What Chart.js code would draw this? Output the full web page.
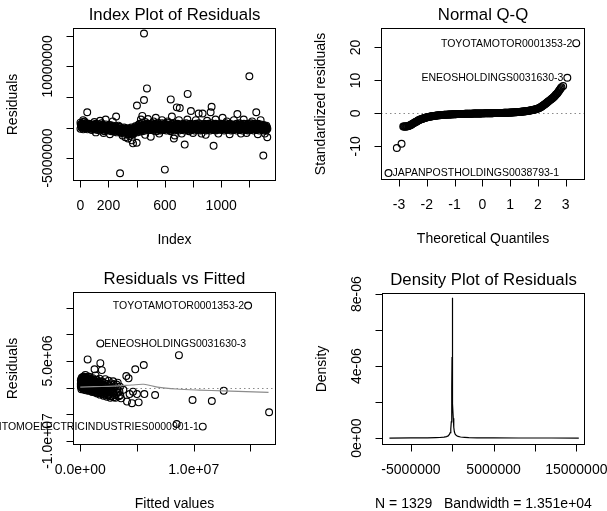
<!DOCTYPE html>
<html>
<head>
<meta charset="utf-8">
<script src="https://cdn.jsdelivr.net/npm/chart.js@4"></script>
<style>
  html, body { margin: 0; padding: 0; background: #fff; }
  #wrap { position: relative; width: 607px; height: 511px; }
  #wrap canvas { position: absolute; left: 0; top: 0; }
</style>
</head>
<body>
<div id="wrap">
  <canvas id="c1" width="607" height="511"></canvas>
  <canvas id="c2" width="607" height="511"></canvas>
  <canvas id="c3" width="607" height="511"></canvas>
  <canvas id="c4" width="607" height="511"></canvas>
</div>
<script>
// residuals are kept in millions (1e6), density in 1e-6

// --- Index plot: dense band (several rows) + scattered points
const idxBand = [1,11,21,31,41,51,61,71,81,91,101,111,121,131,141,151,161,171,181,191,
  201,211,221,231,241,251,261,271,281,291,301,311,321,331,341,351,361,371,381,391,
  401,411,421,431,441,451,461,471,481,491,501,511,521,531,541,551,561,571,581,591,
  601,611,621,631,641,651,661,671,681,691,701,711,721,731,741,751,761,771,781,791,
  801,811,821,831,841,851,861,871,881,891,901,911,921,931,941,951,961,971,981,991,
  1001,1011,1021,1031,1041,1051,1061,1071,1081,1091,1101,1111,1121,1131,1141,1151,1161,1171,1181,1191,
  1201,1211,1221,1231,1241,1251,1261,1271,1281,1291,1301,1311,1321];
const idxBandMid = [6,16,26,36,46,56,66,76,86,96,106,116,126,136,146,156,166,176,186,196,
  206,216,226,236,246,256,266,276,286,296,306,316,326,336,346,356,366,376,386,396,
  406,416,426,436,446,456,466,476,486,496,506,516,526,536,546,556,566,576,586,596,
  606,616,626,636,646,656,666,676,686,696,706,716,726,736,746,756,766,776,786,796,
  806,816,826,836,846,856,866,876,886,896,906,916,926,936,946,956,966,976,986,996,
  1006,1016,1026,1036,1046,1056,1066,1076,1086,1096,1106,1116,1126,1136,1146,1156,1166,1176,1186,1196,
  1206,1216,1226,1236,1246,1256,1266,1276,1286,1296,1306,1316,1326];
const idxBandQ = [3,13,23,33,43,53,63,73,83,93,103,113,123,133,143,153,163,173,183,193,
  203,213,223,233,243,253,263,273,283,293,303,313,323,333,343,353,363,373,383,393,
  403,413,423,433,443,453,463,473,483,493,503,513,523,533,543,553,563,573,583,593,
  603,613,623,633,643,653,663,673,683,693,703,713,723,733,743,753,763,773,783,793,
  803,813,823,833,843,853,863,873,883,893,903,913,923,933,943,953,963,973,983,993,
  1003,1013,1023,1033,1043,1053,1063,1073,1083,1093,1103,1113,1123,1133,1143,1153,1163,1173,1183,1193,
  1203,1213,1223,1233,1243,1253,1263,1273,1283,1293,1303,1313,1323];
const idxBandR = [8,18,28,38,48,58,68,78,88,98,108,118,128,138,148,158,168,178,188,198,
  208,218,228,238,248,258,268,278,288,298,308,318,328,338,348,358,368,378,388,398,
  408,418,428,438,448,458,468,478,488,498,508,518,528,538,548,558,568,578,588,598,
  608,618,628,638,648,658,668,678,688,698,708,718,728,738,748,758,768,778,788,798,
  808,818,828,838,848,858,868,878,888,898,908,918,928,938,948,958,968,978,988,998,
  1008,1018,1028,1038,1048,1058,1068,1078,1088,1098,1108,1118,1128,1138,1148,1158,1168,1178,1188,1198,
  1208,1218,1228,1238,1248,1258,1268,1278,1288,1298,1308,1318,1328];
const resBandA = [0.8,0.6,0.9,0.5,0.7,0.4,0.6,0.5,0.3,0.5,
  0.4,0.6,0.2,0.5,0.3,0.7,0.4,0.2,0.5,0.3,
  0.2,0.4,0.1,0.3,0.0,0.2,-0.1,0.3,0.1,-0.2,
  -0.2,0.0,-0.3,-0.1,-0.4,-0.2,0.0,-0.3,-0.1,0.2,
  0.1,0.4,0.6,0.3,0.8,0.5,0.9,0.4,0.6,0.3,
  0.5,0.7,0.4,0.6,0.3,0.8,0.5,0.4,0.7,0.5,
  0.6,0.4,0.8,0.5,0.3,0.6,0.7,0.4,0.5,0.6,
  0.4,0.5,0.3,0.6,0.4,0.7,0.5,0.3,0.6,0.4,
  0.5,0.3,0.6,0.4,0.7,0.5,0.3,0.5,0.6,0.4,
  0.5,0.6,0.3,0.7,0.4,0.5,0.6,0.3,0.5,0.4,
  0.6,0.4,0.5,0.7,0.3,0.5,0.6,0.4,0.5,0.3,
  0.5,0.6,0.4,0.7,0.5,0.3,0.6,0.5,0.4,0.6,
  0.5,0.7,0.4,0.6,0.3,0.5,0.6,0.4,0.5,0.3,
  0.4,0.2,0.3];
const resBandQ = [0.5,0.4,0.6,0.3,0.5,0.4,0.3,0.5,0.2,0.4,
  0.3,0.2,0.1,0.3,0.2,0.4,0.1,0.0,0.3,0.1,
  0.1,0.2,0.0,0.1,-0.1,0.0,-0.2,0.1,-0.1,-0.3,
  -0.3,-0.4,-0.2,-0.3,-0.5,-0.3,-0.4,-0.5,-0.3,-0.1,
  -0.1,0.2,0.3,0.2,0.4,0.3,0.5,0.3,0.4,0.2,
  0.3,0.4,0.2,0.3,0.1,0.4,0.3,0.2,0.4,0.3,
  0.3,0.2,0.4,0.3,0.1,0.3,0.4,0.2,0.3,0.4,
  0.2,0.3,0.1,0.4,0.2,0.3,0.2,0.1,0.3,0.2,
  0.3,0.1,0.4,0.2,0.3,0.2,0.1,0.3,0.4,0.2,
  0.2,0.3,0.1,0.4,0.2,0.3,0.4,0.1,0.3,0.2,
  0.3,0.2,0.2,0.4,0.1,0.3,0.3,0.2,0.2,0.1,
  0.3,0.3,0.2,0.4,0.2,0.1,0.3,0.2,0.2,0.3,
  0.3,0.4,0.2,0.3,0.1,0.2,0.3,0.2,0.3,0.1,
  0.2,0.1,0.1];
const resBandMid = [0.3,0.2,0.4,0.1,0.3,0.2,0.1,0.2,0.0,0.2,
  0.1,0.2,-0.1,0.1,-0.1,0.2,0.0,-0.2,0.1,-0.1,
  -0.1,0.0,-0.2,-0.1,-0.3,-0.2,-0.4,-0.2,-0.3,-0.5,
  -0.5,-0.6,-0.4,-0.5,-0.7,-0.5,-0.6,-0.8,-0.5,-0.3,
  -0.3,0.0,-0.1,0.0,0.2,0.1,0.2,0.1,0.1,0.0,
  0.1,0.2,0.0,0.1,-0.1,0.2,0.0,0.0,0.2,0.1,
  0.1,0.0,0.2,0.1,-0.1,0.1,0.2,0.0,0.1,0.1,
  0.0,0.1,-0.1,0.2,0.0,0.1,0.0,-0.1,0.1,0.0,
  0.1,-0.1,0.2,0.0,0.1,0.0,-0.1,0.1,0.1,0.0,
  0.0,0.1,-0.1,0.2,0.0,0.1,0.1,-0.1,0.0,0.0,
  0.1,0.0,0.0,0.2,-0.1,0.1,0.1,0.0,0.0,-0.1,
  0.1,0.1,0.0,0.2,0.0,-0.1,0.1,0.0,0.0,0.1,
  0.1,0.2,0.0,0.1,-0.1,0.0,0.1,0.0,0.1,-0.1,
  0.0,-0.1,-0.1];
const resBandR = [0.0,0.1,-0.1,0.2,0.0,-0.1,0.1,-0.1,-0.2,0.0,
  -0.1,0.0,-0.2,-0.1,-0.3,-0.1,-0.2,-0.4,-0.1,-0.2,
  -0.3,-0.2,-0.4,-0.3,-0.5,-0.4,-0.6,-0.4,-0.5,-0.7,
  -0.7,-0.8,-0.6,-0.7,-0.9,-0.7,-0.8,-1.0,-0.7,-0.5,
  -0.5,-0.3,-0.4,-0.2,-0.3,-0.1,-0.2,-0.1,-0.2,-0.1,
  -0.2,-0.1,-0.3,-0.1,-0.3,0.0,-0.2,-0.3,-0.1,-0.2,
  -0.1,-0.3,0.0,-0.2,-0.3,-0.1,0.0,-0.3,-0.2,-0.1,
  -0.3,-0.1,-0.2,0.0,-0.3,-0.1,-0.2,-0.3,-0.1,-0.2,
  -0.1,-0.3,0.0,-0.2,-0.1,-0.3,-0.2,0.0,-0.1,-0.3,
  -0.2,-0.1,-0.3,0.0,-0.2,-0.1,-0.3,-0.2,0.0,-0.1,
  -0.2,0.0,-0.3,-0.1,-0.2,-0.1,0.0,-0.3,-0.2,-0.1,
  -0.1,-0.3,0.0,-0.2,-0.1,-0.3,0.0,-0.1,-0.2,-0.3,
  -0.1,-0.2,0.0,-0.3,-0.1,-0.2,0.0,-0.3,-0.1,-0.2,
  -0.3,-0.2,-0.2];
const resBandB = [-0.2,0.0,-0.3,0.1,-0.1,-0.3,0.0,-0.2,-0.4,-0.1,
  -0.3,-0.1,-0.4,-0.2,-0.5,-0.2,-0.3,-0.6,-0.3,-0.4,
  -0.5,-0.3,-0.6,-0.4,-0.7,-0.5,-0.8,-0.6,-0.7,-0.9,
  -0.8,-1.0,-0.7,-0.9,-1.1,-0.8,-1.0,-1.2,-0.9,-0.7,
  -0.8,-0.5,-0.7,-0.4,-0.6,-0.3,-0.5,-0.2,-0.4,-0.3,
  -0.4,-0.2,-0.5,-0.3,-0.6,-0.2,-0.4,-0.5,-0.3,-0.4,
  -0.3,-0.5,-0.2,-0.4,-0.6,-0.3,-0.2,-0.5,-0.4,-0.3,
  -0.5,-0.3,-0.4,-0.2,-0.5,-0.3,-0.4,-0.6,-0.3,-0.4,
  -0.3,-0.5,-0.2,-0.4,-0.3,-0.5,-0.4,-0.2,-0.3,-0.5,
  -0.4,-0.3,-0.5,-0.2,-0.4,-0.3,-0.5,-0.4,-0.2,-0.3,
  -0.4,-0.2,-0.5,-0.3,-0.4,-0.3,-0.2,-0.5,-0.4,-0.3,
  -0.3,-0.5,-0.2,-0.4,-0.3,-0.5,-0.2,-0.3,-0.4,-0.5,
  -0.3,-0.4,-0.2,-0.5,-0.3,-0.4,-0.2,-0.5,-0.3,-0.4,
  -0.5,-0.3,-0.4];
const idxOut = [452,473,452,402,49,254,282,600,367,374,400,642,685,706,762,785,840,868,925,932,
  1010,1115,1200,1249,741,946,1299,1327,890,339,500,664,536,
  20,30,100,140,180,230,300,320,350,430,440,460,480,520,560,580,620,650,670,700,720,
  760,800,820,860,900,960,980,1040,1060,1090,1140,1160,1180,1220,1260,1280,1310,165,210,110];
const resOut = [15.4,6.4,4.5,3.6,2.5,1.8,-7.5,-6.9,-2.1,-2.6,-2.5,4.6,3.3,3.2,5.5,2.7,2.3,2.3,2.5,3.4,
  1.6,2.2,8.4,2.5,-2.8,-3.0,-4.6,-1.6,-1.2,-1.8,-1.5,-1.8,1.6,
  1.2,1.0,0.9,1.1,1.3,1.0,-1.3,-1.6,-1.4,1.3,1.9,-1.2,1.4,1.0,-1.0,1.2,1.0,1.8,-1.3,1.2,-1.0,
  1.3,-0.9,1.2,-1.0,1.1,1.3,-1.0,1.0,-1.1,1.2,-1.0,1.3,-0.9,1.0,-1.1,1.2,-1.0,-0.9,-1.1,-0.8];
const idxXTicks = [0, 200, 400, 600, 800, 1000, 1200];
const idxXLabels = ['0', '200', '', '600', '', '1000', ''];
const idxYTicks = [-5, 0, 5, 10, 15];
const idxYLabels = ['-5000000', '', '', '10000000', ''];

// --- Normal Q-Q
const qqTheo = [-3.38,-3.08,-2.91,
  -2.85,-2.80,-2.75,-2.70,-2.65,-2.60,-2.55,-2.50,-2.45,-2.40,
  -2.35,-2.30,-2.25,-2.20,-2.15,-2.10,-2.05,-2.00,-1.95,-1.90,
  -1.85,-1.80,-1.75,-1.70,-1.65,-1.60,-1.55,-1.50,-1.45,-1.40,
  -1.35,-1.30,-1.25,-1.20,-1.15,-1.10,-1.05,-1.00,-0.95,-0.90,
  -0.85,-0.80,-0.75,-0.70,-0.65,-0.60,-0.55,-0.50,-0.45,-0.40,
  -0.35,-0.30,-0.25,-0.20,-0.15,-0.10,-0.05,0.00,0.05,0.10,
  0.15,0.20,0.25,0.30,0.35,0.40,0.45,0.50,0.55,0.60,
  0.65,0.70,0.75,0.80,0.85,0.90,0.95,1.00,1.05,1.10,
  1.15,1.20,1.25,1.30,1.35,1.40,1.45,1.50,1.55,1.60,
  1.65,1.70,1.75,1.80,1.85,1.90,1.95,2.00,2.05,2.10,
  2.15,2.20,2.25,2.30,2.35,2.40,2.45,2.50,2.55,2.60,
  2.65,2.70,2.75,2.80,2.85,
  2.91,3.06,3.38];
const qqStd = [-18.1,-10.5,-9.2,
  -4.0,-4.0,-4.0,-3.9,-3.8,-3.6,-3.35,-3.1,-2.85,-2.6,
  -2.35,-2.1,-1.9,-1.75,-1.6,-1.45,-1.3,-1.2,-1.1,-1.0,
  -0.92,-0.85,-0.78,-0.72,-0.66,-0.6,-0.56,-0.52,-0.48,-0.45,
  -0.42,-0.4,-0.37,-0.35,-0.32,-0.3,-0.28,-0.25,-0.24,-0.22,
  -0.2,-0.19,-0.17,-0.16,-0.14,-0.13,-0.12,-0.11,-0.1,-0.08,
  -0.07,-0.06,-0.05,-0.04,-0.03,-0.02,-0.01,0.0,0.01,0.02,
  0.03,0.04,0.05,0.06,0.07,0.08,0.09,0.1,0.11,0.12,
  0.13,0.15,0.16,0.18,0.19,0.2,0.22,0.25,0.27,0.3,
  0.32,0.35,0.38,0.4,0.44,0.5,0.55,0.6,0.65,0.7,
  0.75,0.85,0.92,1.0,1.1,1.2,1.3,1.45,1.65,1.9,
  2.15,2.45,2.8,3.1,3.45,3.8,4.1,4.45,4.8,5.2,
  5.7,6.1,6.7,7.3,7.9,
  8.3,10.8,21.3];
// points lying between the ones above
const qqTheoMid = [-2.825,-2.775,-2.725,-2.675,-2.625,-2.575,-2.525,-2.475,-2.425,-2.375,
  -2.325,-2.275,-2.225,-2.175,-2.125,-2.075,-2.025,-1.975,-1.925,-1.875,
  -1.825,-1.775,-1.725,-1.675,-1.625,-1.575,-1.525,-1.475,-1.425,-1.375,
  -1.325,-1.275,-1.225,-1.175,-1.125,-1.075,-1.025,-0.975,-0.925,-0.875,
  -0.825,-0.775,-0.725,-0.675,-0.625,-0.575,-0.525,-0.475,-0.425,-0.375,
  -0.325,-0.275,-0.225,-0.175,-0.125,-0.075,-0.025,0.025,0.075,0.125,
  0.175,0.225,0.275,0.325,0.375,0.425,0.475,0.525,0.575,0.625,
  0.675,0.725,0.775,0.825,0.875,0.925,0.975,1.025,1.075,1.125,
  1.175,1.225,1.275,1.325,1.375,1.425,1.475,1.525,1.575,1.625,
  1.675,1.725,1.775,1.825,1.875,1.925,1.975,2.025,2.075,2.125,
  2.175,2.225,2.275,2.325,2.375,2.425,2.475,2.525,2.575,2.625,
  2.675,2.725,2.775,2.825];
const qqStdMid = [-4.0,-4.0,-3.95,-3.85,-3.7,-3.5,-3.2,-3.0,-2.7,-2.5,
  -2.2,-2.0,-1.8,-1.7,-1.5,-1.4,-1.25,-1.15,-1.05,-0.96,
  -0.88,-0.82,-0.75,-0.69,-0.63,-0.58,-0.54,-0.5,-0.46,-0.44,
  -0.41,-0.38,-0.36,-0.33,-0.31,-0.29,-0.26,-0.25,-0.23,-0.21,
  -0.2,-0.18,-0.16,-0.15,-0.13,-0.12,-0.11,-0.1,-0.09,-0.08,
  -0.06,-0.05,-0.04,-0.03,-0.02,-0.01,0.0,0.0,0.01,0.02,
  0.03,0.04,0.05,0.06,0.07,0.08,0.09,0.1,0.11,0.12,
  0.14,0.15,0.17,0.18,0.2,0.21,0.23,0.26,0.28,0.31,
  0.33,0.36,0.39,0.42,0.47,0.52,0.57,0.62,0.67,0.72,
  0.8,0.88,0.96,1.05,1.15,1.25,1.38,1.55,1.77,2.0,
  2.3,2.6,2.95,3.3,3.6,3.95,4.3,4.6,5.0,5.45,
  5.9,6.4,7.0,7.6];
const qqLabelNames = ['TOYOTAMOTOR0001353-2', 'ENEOSHOLDINGS0031630-3', 'JAPANPOSTHOLDINGS0038793-1'];
const qqLabelAt = [120, 119, 0];
const qqLabelSide = ['left', 'left', 'right'];
const qqXTicks = [-3, -2, -1, 0, 1, 2, 3];
const qqXLabels = ['-3', '-2', '-1', '0', '1', '2', '3'];
const qqYTicks = [-10, 0, 10, 20];
const qqYLabels = ['-10', '0', '10', '20'];

// --- Residuals vs Fitted
const rvfFit = [0.05,0.05,0.05,0.1,0.1,0.1,0.15,0.15,0.2,0.2,0.25,0.25,0.3,0.3,0.3,0.35,0.35,0.4,0.4,0.45,
  0.45,0.5,0.5,0.5,0.55,0.6,0.6,0.65,0.7,0.7,0.75,0.8,0.8,0.85,0.9,0.9,0.95,1.0,1.0,1.05,
  1.1,1.1,1.15,1.2,1.25,1.3,1.3,1.35,1.4,1.45,1.5,1.5,1.55,1.6,1.65,1.7,1.75,1.8,1.85,1.9,
  1.95,2.0,2.05,2.1,2.15,2.2,2.25,2.3,2.35,2.4,2.45,2.5,2.55,2.6,2.7,2.75,2.8,2.9,3.0,3.05,
  3.1,3.2,3.3,3.4,3.5,3.6,3.8,
  0.65,1.77,1.26,1.9,4.85,5.6,4.06,4.26,3.3,6.6,5.65,5.0,4.65,4.35,4.12,4.56,5.15,3.53,2.94,
  8.7,8.5,9.9,11.6,12.65,16.65];
const rvfRes = [0.2,0.8,1.4,-0.3,0.5,1.1,1.9,0.0,0.6,1.5,-0.2,0.9,0.3,1.2,2.1,-0.4,0.6,1.0,1.7,0.1,
  2.4,-0.5,0.7,1.3,0.3,1.9,-0.2,0.9,0.4,1.5,-0.6,0.2,1.1,2.0,-0.3,0.7,1.4,0.0,0.9,-0.8,
  0.5,1.8,-0.4,1.2,0.2,-0.9,0.8,2.3,-0.2,1.5,0.4,-1.1,1.0,-0.5,0.3,1.7,-1.3,0.6,-0.2,1.2,
  -0.8,0.4,-1.5,0.9,-0.3,1.6,-1.0,0.2,-1.7,0.7,-0.6,1.3,-1.2,0.0,-1.6,0.8,-0.7,1.2,-1.4,0.3,
  -1.9,0.6,-0.9,-1.6,0.2,-2.0,-0.4,
  5.3,4.6,3.45,3.3,3.45,4.26,2.2,1.76,0.94,-1.37,-1.2,-1.2,-0.75,-1.2,-2.6,-2.9,-2.75,-1.4,-1.8,
  6.1,-6.8,-2.3,-2.5,-0.56,-4.6];
// dense core of the cloud near small fitted values
const rvfCoreFit = [0.1,0.1,0.15,0.2,0.2,0.25,0.3,0.3,0.35,0.4,0.4,0.45,0.5,0.5,0.55,0.6,0.6,0.65,0.7,0.7,
  0.75,0.8,0.85,0.9,0.9,0.95,1.0,1.0,1.05,1.1,1.15,1.2,1.2,1.25,1.3,1.35,1.4,1.45,1.5,1.55,
  1.6,1.65,1.7,1.75,1.8,1.85,1.9,1.95,2.0,2.05,2.1,2.15,2.2,2.3,2.4,2.45,2.55,2.6,2.65,2.8,
  2.85,2.95,3.15,3.25,3.45,
  0.05,0.1,0.15,0.2,0.25,0.3,0.35,0.35,0.4,0.45,0.5,0.55,0.6,0.65,0.7,0.75,0.8,0.85,0.9,0.95,
  1.0,1.05,1.1,1.15,1.2,1.25,1.3,1.35,1.4,1.45,1.5,1.55,1.6,1.65,1.7,1.75,1.8,1.85,1.9,1.95,
  2.0,2.1,2.2,2.25,2.35,2.5,2.7,2.9];
const rvfCoreRes = [0.3,0.9,1.6,0.1,1.2,0.5,1.8,-0.1,1.0,0.4,2.0,1.3,0.0,0.9,1.6,0.5,1.1,-0.3,0.8,2.1,
  0.3,1.4,-0.1,1.0,0.4,-0.6,1.6,0.5,0.1,1.1,-0.6,0.6,-0.1,1.4,0.3,-0.5,0.9,-0.9,0.2,-0.3,
  0.8,-1.0,0.1,-0.5,1.1,-1.1,0.3,-0.4,-1.2,0.6,-0.7,-1.3,0.2,-0.9,-0.2,-1.4,0.4,-0.9,-1.9,-0.3,
  -1.1,0.6,-1.2,-0.2,-0.7,
  0.5,1.7,0.4,0.9,1.4,0.7,0.2,1.5,-0.2,0.7,1.8,-0.1,0.8,1.4,0.0,1.0,0.6,1.6,-0.5,0.3,
  1.2,-0.3,0.8,0.2,1.0,-0.4,0.5,1.1,0.1,0.6,-0.6,0.5,-0.1,1.0,-0.7,0.4,-0.3,0.7,-0.8,0.1,
  -0.4,0.3,-0.6,-1.1,0.1,-0.9,-0.2,-0.8];
const rvfLabelNames = ['TOYOTAMOTOR0001353-2', 'ENEOSHOLDINGS0031630-3', 'SUMITOMOELECTRICINDUSTRIES0000901-1'];
const rvfLabelFit = [14.8, 1.77, 10.8];
const rvfLabelRes = [15.4, 8.3, -7.3];
const rvfLabelSide = ['left', 'right', 'left'];
const lowFit = [0.0, 1.2, 2.9, 4.5, 5.6, 6.8, 8.5, 10.5, 12.6, 16.6];
const lowRes = [0.1, 0.2, 0.3, 0.5, 0.64, 0.1, -0.25, -0.45, -0.6, -0.87];
const rvfXTicks = [0, 5, 10, 15];
const rvfXLabels = ['0.0e+00', '', '1.0e+07', ''];
const rvfYTicks = [-10, -5, 0, 5, 10, 15];
const rvfYLabels = ['-1.0e+07', '', '', '5.0e+06', '', ''];

// --- Density of residuals
const densX = [-7.6,-5.0,-3.0,-2.0,-1.5,-1.0,-0.7,-0.5,-0.35,-0.25,-0.18,-0.12,-0.08,-0.05,-0.03,-0.01,0.0,0.01,0.03,0.05,
  0.08,0.12,0.18,0.25,0.35,0.5,0.7,1.0,1.5,2.0,3.0,5.0,8.0,12.0,15.3];
const densY = [0.0,0.005,0.01,0.02,0.03,0.05,0.08,0.12,0.2,0.3,0.5,0.9,1.6,2.8,4.5,6.8,7.8,7.2,5.0,3.2,
  1.9,1.1,0.6,0.35,0.22,0.14,0.09,0.06,0.04,0.025,0.015,0.008,0.004,0.002,0.0];
const densXTicks = [-5, 0, 5, 10, 15];
const densXLabels = ['-5000000', '', '5000000', '', '15000000'];
const densYTicks = [0, 2, 4, 6, 8];
const densYLabels = ['0e+00', '', '4e-06', '', '8e-06'];

const FONT = '"Liberation Sans", Arial, Helvetica, sans-serif';
const W = 607, H = 511;

const zip = (xs, ys) => xs.map((x, i) => ({ x, y: ys[i] }));

const rAxes = {
  id: 'rAxes',
  beforeDatasetsDraw(chart, args, o) {
    if (o.hline === undefined) return;
    const ctx = chart.ctx, a = chart.chartArea;
    const py = Math.round(chart.scales.y.getPixelForValue(o.hline)) + 0.5;
    ctx.save();
    ctx.strokeStyle = '#8a8a8a';
    ctx.lineWidth = 1;
    ctx.setLineDash([1.5, 3]);
    ctx.beginPath();
    ctx.moveTo(a.left, py);
    ctx.lineTo(a.right, py);
    ctx.stroke();
    ctx.restore();
  },
  afterDraw(chart, args, o) {
    const ctx = chart.ctx, a = chart.chartArea;
    const sx = chart.scales.x, sy = chart.scales.y;
    const L = Math.round(a.left) + 0.5, T = Math.round(a.top) + 0.5;
    const R = Math.round(a.right) + 0.5, B = Math.round(a.bottom) + 0.5;
    ctx.save();
    ctx.strokeStyle = '#000';
    ctx.fillStyle = '#000';
    ctx.lineWidth = 1;
    ctx.strokeRect(L, T, R - L, B - T);

    ctx.beginPath();
    o.xTicks.forEach((v) => {
      const px = Math.round(sx.getPixelForValue(v)) + 0.5;
      ctx.moveTo(px, B);
      ctx.lineTo(px, B + 7);
    });
    o.yTicks.forEach((v) => {
      const py = Math.round(sy.getPixelForValue(v)) + 0.5;
      ctx.moveTo(L, py);
      ctx.lineTo(L - 7, py);
    });
    ctx.stroke();

    ctx.font = '14px ' + FONT;
    ctx.textAlign = 'center';
    ctx.textBaseline = 'middle';
    o.xTicks.forEach((v, i) => {
      if (o.xLabels[i]) ctx.fillText(o.xLabels[i], sx.getPixelForValue(v), B + 26);
    });
    o.yTicks.forEach((v, i) => {
      if (!o.yLabels[i]) return;
      ctx.save();
      ctx.translate(L - 25, sy.getPixelForValue(v));
      ctx.rotate(-Math.PI / 2);
      ctx.fillText(o.yLabels[i], 0, 0);
      ctx.restore();
    });

    const cx = (L + R) / 2, cy = (T + B) / 2;
    ctx.fillText(o.xTitle, cx, B + 60);
    ctx.save();
    ctx.translate(L - 60, cy);
    ctx.rotate(-Math.PI / 2);
    ctx.fillText(o.yTitle, 0, 0);
    ctx.restore();

    ctx.font = '16.8px ' + FONT;
    ctx.fillText(o.title, cx, T - 13);

    // point labels
    ctx.font = '10.5px ' + FONT;
    (o.notes || []).forEach((n) => {
      const px = sx.getPixelForValue(n.x), py = sy.getPixelForValue(n.y);
      ctx.textAlign = n.side === 'left' ? 'right' : 'left';
      ctx.fillText(n.text, n.side === 'left' ? px - 4 : px + 4, py + 0.5);
    });
    ctx.restore();
  },
};

const pointStyle = {
  pointRadius: 3.4,
  pointHoverRadius: 3.4,
  pointBorderWidth: 1.15,
  pointBackgroundColor: 'rgba(0,0,0,0)',
  pointBorderColor: '#000',
  showLine: false,
};

function makeChart(id, box, scales, datasets, axes) {
  return new Chart(document.getElementById(id), {
    type: 'scatter',
    data: { datasets },
    options: {
      responsive: false,
      animation: false,
      events: [],
      layout: { padding: { left: box[0], top: box[1], right: W - box[2], bottom: H - box[3] } },
      plugins: { legend: { display: false }, tooltip: { enabled: false }, rAxes: axes },
      scales: {
        x: { type: 'linear', display: false, min: scales[0], max: scales[1] },
        y: { type: 'linear', display: false, min: scales[2], max: scales[3] },
      },
    },
    plugins: [rAxes],
  });
}

// Index plot of residuals
makeChart('c1', [73, 28, 275, 180], [-52, 1382, -8.6, 16.3], [
  { data: zip(idxBand, resBandA), ...pointStyle },
  { data: zip(idxBandQ, resBandQ), ...pointStyle },
  { data: zip(idxBandMid, resBandMid), ...pointStyle },
  { data: zip(idxBandR, resBandR), ...pointStyle },
  { data: zip(idxBand, resBandB), ...pointStyle },
  { data: zip(idxOut, resOut), ...pointStyle },
], {
  title: 'Index Plot of Residuals', xTitle: 'Index', yTitle: 'Residuals',
  xTicks: idxXTicks, xLabels: idxXLabels, yTicks: idxYTicks, yLabels: idxYLabels,
});

// Normal Q-Q
makeChart('c2', [381, 28, 584, 179], [-3.65, 3.66, -19.9, 25.9], [
  { data: zip(qqTheo, qqStd), ...pointStyle },
  { data: zip(qqTheoMid, qqStdMid), ...pointStyle },
], {
  title: 'Normal Q-Q', xTitle: 'Theoretical Quantiles', yTitle: 'Standardized residuals',
  xTicks: qqXTicks, xLabels: qqXLabels, yTicks: qqYTicks, yLabels: qqYLabels, hline: 0,
  notes: qqLabelNames.map((t, i) => ({ text: t, x: qqTheo[qqLabelAt[i]], y: qqStd[qqLabelAt[i]], side: qqLabelSide[i] })),
});

// Residuals vs Fitted
makeChart('c3', [73, 292, 275, 444], [-0.64, 17.17, -10.56, 17.95], [
  { data: zip(lowFit, lowRes), showLine: true, borderColor: '#8c8c8c', borderWidth: 1.1, pointRadius: 0, tension: 0.3 },
  { data: zip(rvfFit, rvfRes), ...pointStyle },
  { data: zip(rvfCoreFit, rvfCoreRes), ...pointStyle },
  { data: zip(rvfLabelFit, rvfLabelRes), ...pointStyle },
], {
  title: 'Residuals vs Fitted', xTitle: 'Fitted values', yTitle: 'Residuals',
  xTicks: rvfXTicks, xLabels: rvfXLabels, yTicks: rvfYTicks, yLabels: rvfYLabels, hline: 0,
  notes: rvfLabelNames.map((t, i) => ({ text: t, x: rvfLabelFit[i], y: rvfLabelRes[i], side: rvfLabelSide[i] })),
});

// Density plot of residuals
makeChart('c4', [382, 293, 584, 444], [-8.5, 15.93, -0.33, 8.06], [
  { data: zip(densX, densY), showLine: true, borderColor: '#000', borderWidth: 1.2, pointRadius: 0, tension: 0 },
], {
  title: 'Density Plot of Residuals', xTitle: 'N = 1329   Bandwidth = 1.351e+04', yTitle: 'Density',
  xTicks: densXTicks, xLabels: densXLabels, yTicks: densYTicks, yLabels: densYLabels,
});
</script>
</body>
</html>
